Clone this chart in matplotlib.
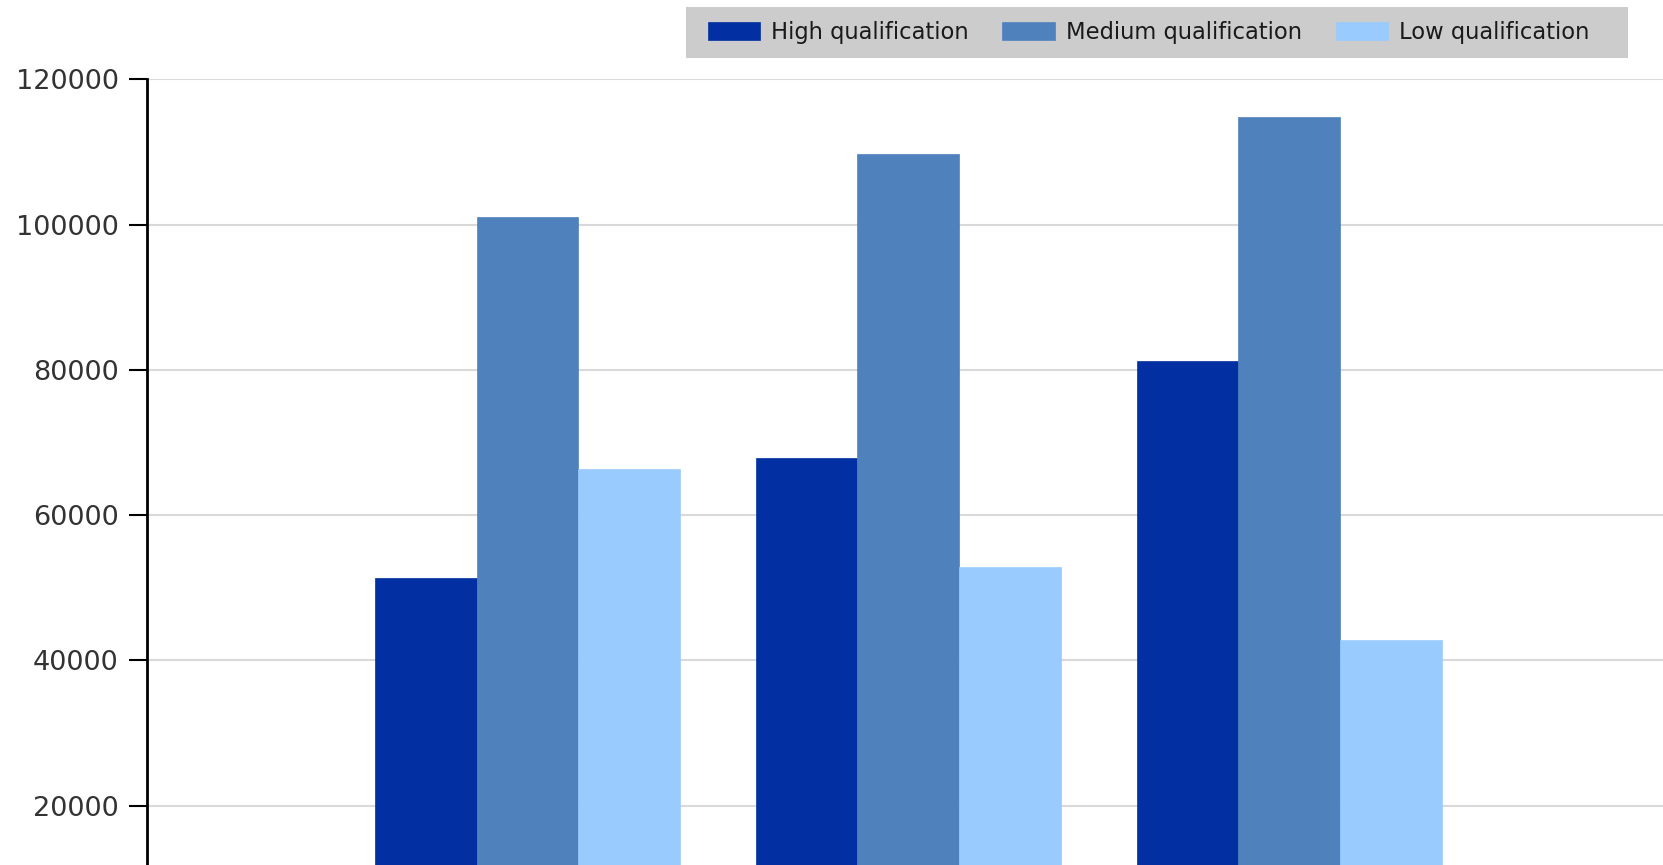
import matplotlib
matplotlib.use("Agg")
import matplotlib.pyplot as plt
from matplotlib.patches import Rectangle
import numpy as np

categories = ["Group 1", "Group 2", "Group 3"]
series_names = ["High qualification", "Medium qualification", "Low qualification"]
high = [51300, 67800, 81200]
medium = [101000, 109700, 114800]
low = [66400, 52800, 42800]
yticks = [20000, 40000, 60000, 80000, 100000, 120000]
colors = ["#022FA1", "#4F82BD", "#99CBFF"]

plt.rcParams['font.family'] = ['DejaVu Sans']

fig = plt.figure(figsize=(16.63, 8.65), dpi=100)
W, H = 1663, 865
left_px, top_px, bottom_px = 146.7, 79.3, 951.0
grp_px = 380.8
ax = fig.add_axes([left_px / W, 1 - bottom_px / H, 4 * grp_px / W, (bottom_px - top_px) / H])

x = np.arange(1, len(categories) + 1)
bw = 0.267
for i, (vals, name, c) in enumerate(zip([high, medium, low], series_names, colors)):
    ax.bar(x + (i - 1) * bw, vals, width=bw, color=c, label=name, zorder=3,
           edgecolor=c, linewidth=0.5)

ax.set_xlim(0, 4)
ax.set_ylim(0, 120000)
ax.set_yticks(yticks)
ax.set_yticklabels([str(v) for v in yticks])
ax.set_xticks([])
ax.grid(axis='y', color='#d9d9d9', linewidth=1.5, zorder=0)
for s in ['top', 'right', 'bottom']:
    ax.spines[s].set_visible(False)
ax.spines['left'].set_color('black')
ax.spines['left'].set_linewidth(2)
ax.tick_params(axis='y', length=13, width=1.5, color='black', pad=7,
               labelsize=19.5, labelcolor='#333333')

# legend background box
fig.patches.append(Rectangle((686 / W, 1 - 57.5 / H), (1628 - 686) / W, 50.5 / H,
                             transform=fig.transFigure, facecolor='#cccccc',
                             edgecolor='none', zorder=0))

leg = fig.legend(loc='center left', bbox_to_anchor=(707.5 / W, 1 - 32.5 / H),
                 ncol=3, fontsize=16.3, frameon=False,
                 handlelength=2.3, handleheight=0.8, handletextpad=0.5,
                 columnspacing=1.5, borderpad=0, borderaxespad=0)
for t in leg.get_texts():
    t.set_color('#1a1a1a')

fig.savefig("out.png", dpi=100)
